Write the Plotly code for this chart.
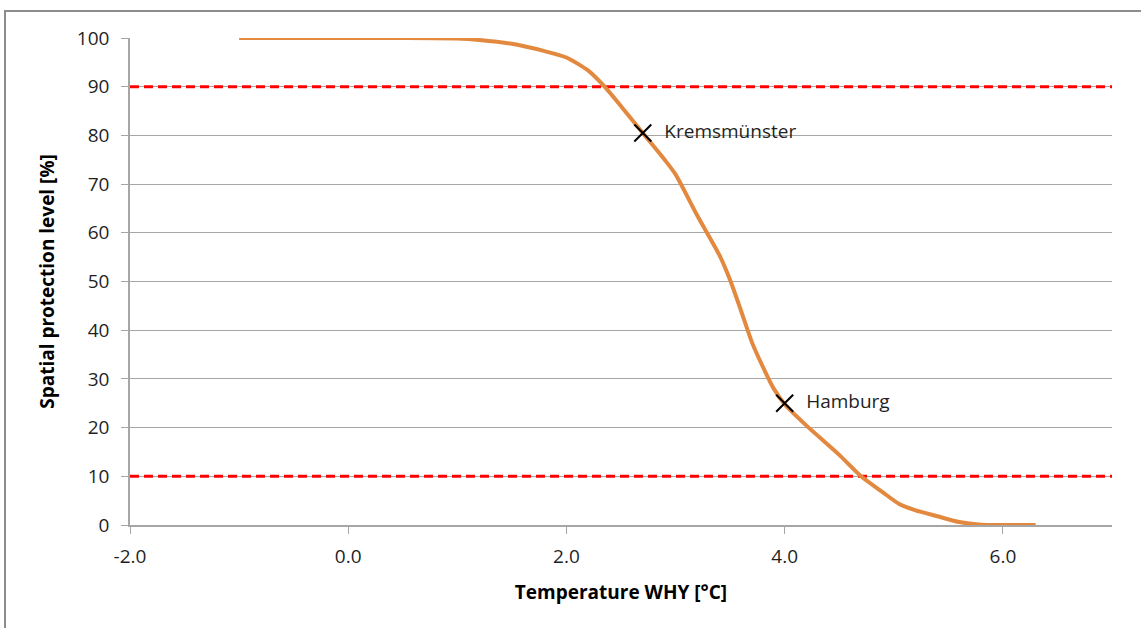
import plotly.graph_objects as go

# ---- data ----
temperature = [-1.0, 0.0, 0.5, 1.0, 1.2, 1.5, 1.8, 2.0, 2.2, 2.35, 2.5, 2.7, 2.9, 3.0,
               3.2, 3.4, 3.5, 3.6, 3.7, 3.8, 3.9, 4.0, 4.2, 4.5, 4.7, 4.9, 5.05,
               5.2, 5.4, 5.6, 5.8, 6.0, 6.3]
protection = [100, 100, 100, 99.9, 99.6, 98.8, 97.3, 96.0, 93.3, 90.0, 86.0, 80.5, 75.0, 72.0,
              63.5, 55.5, 50.3, 44.0, 37.5, 32.5, 28.0, 24.8, 20.4, 14.4, 10.0, 6.7, 4.3,
              3.0, 1.8, 0.6, 0.05, 0.0, 0.0]

station_names = ["Kremsmünster", "Hamburg"]
station_temp = [2.7, 4.0]
station_level = [80.5, 25.0]

thresholds = [90, 10]

x_tick_values = [-2.0, 0.0, 2.0, 4.0, 6.0]
x_tick_labels = ["-2.0", "0.0", "2.0", "4.0", "6.0"]
y_tick_values = list(range(0, 101, 10))

x_range = [-2.0, 7.0]
y_range = [0, 100]

FONT = "Open Sans, Lato, sans-serif"
TXT = "#1F1F1F"

fig = go.Figure()

for t in thresholds:
    fig.add_trace(go.Scatter(
        x=x_range, y=[t, t], mode="lines",
        line=dict(color="#FF0000", width=3, dash="9px,5px"),
        hoverinfo="skip", showlegend=False, cliponaxis=False,
    ))

fig.add_trace(go.Scatter(
    x=temperature, y=protection, mode="lines",
    line=dict(color="#E3893F", width=4, shape="spline", smoothing=0.6),
    showlegend=False,
))

fig.add_trace(go.Scatter(
    x=station_temp, y=station_level, mode="markers+text",
    marker=dict(symbol="x-thin", size=17, line=dict(color="black", width=2), color="black"),
    text=["  " + s for s in station_names], textposition="middle right",
    textfont=dict(family=FONT, size=19, color=TXT),
    showlegend=False, cliponaxis=False,
))

fig.update_layout(
    width=1141, height=628,
    margin=dict(l=130, r=29, t=38, b=103),
    paper_bgcolor="white", plot_bgcolor="white",
    font=dict(family=FONT, size=19, color=TXT),
    xaxis=dict(
        range=x_range, tickvals=x_tick_values, ticktext=x_tick_labels,
        showgrid=False, zeroline=False,
        showline=True, linecolor="#A6A6A6", linewidth=1.5,
        ticks="outside", ticklen=7, tickcolor="#A6A6A6", tickwidth=1,
        ticklabelstandoff=6,
        tickfont=dict(family=FONT, size=19, color=TXT),
        title=dict(text="<b>Temperature WHY [°C]</b>", standoff=18,
                   font=dict(family=FONT, size=19, color="black")),
    ),
    yaxis=dict(
        range=y_range, tickvals=y_tick_values,
        showgrid=True, gridcolor="#A6A6A6", gridwidth=1,
        zeroline=False,
        showline=True, linecolor="#A6A6A6", linewidth=1.5,
        ticks="outside", ticklen=7, tickcolor="#A6A6A6", tickwidth=1,
        ticklabelstandoff=8,
        tickfont=dict(family=FONT, size=19, color=TXT),
        title=dict(text="<b>Spatial protection level [%]</b>", standoff=17,
                   font=dict(family=FONT, size=19, color="black")),
    ),
    shapes=[dict(type="rect", xref="paper", yref="paper",
                 x0=-0.1273, x1=1.1, y0=-0.4, y1=1.0554,
                 line=dict(color="#8C8C8C", width=2), layer="below")],
)

fig.write_html("out.html", config={"displayModeBar": False},
               post_script="document.body.style.margin='0';document.body.style.overflow='hidden';")
